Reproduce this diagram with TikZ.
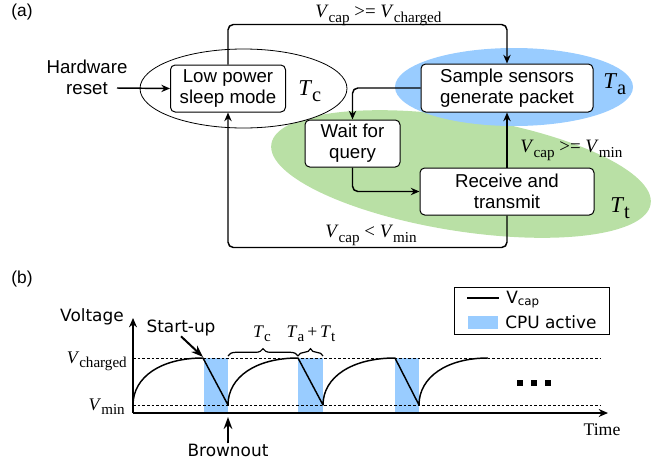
\documentclass[tikz,border=0pt]{standalone}
\usepackage{fontspec}
\usepackage{graphicx}
\setmainfont{Liberation Serif}
\setsansfont{Liberation Sans}
\newfontfamily\plotfont{DejaVu Sans}
\usetikzlibrary{arrows.meta, decorations.pathreplacing}
\definecolor{cpu-blue}{HTML}{99CCFF}
\definecolor{tx-green}{HTML}{B9E0A5}

% italic symbol with an upright, lowered index
\newcommand{\qsym}[3][0.8]{\textit{#2}\raisebox{-0.28em}{\scalebox{#1}{#3}}}

\begin{document}
\begin{tikzpicture}[x=0.75pt, y=-0.75pt,
    state/.style={draw, fill=white, rounded corners=3.5pt, line width=0.75pt,
      align=center, inner sep=0pt, font=\sffamily\fontsize{14}{15.6}\selectfont},
    flow/.style={-{Stealth[length=6.5pt, width=5.5pt]}, line width=1.1pt, rounded corners=4pt},
    cond/.style={anchor=base west, inner sep=0pt, font=\fontsize{14.2}{16}\selectfont},
    phase/.style={anchor=base west, inner sep=0pt, font=\fontsize{17}{18}\selectfont},
    axislbl/.style={inner sep=0pt, font=\fontsize{13.3}{15}\selectfont},
    note/.style={inner sep=0pt, font=\plotfont\fontsize{12.7}{14}\selectfont},
    level/.style={dash pattern=on 2pt off 1.5pt, line width=0.5pt},
    axis/.style={-{Stealth[length=7pt, width=6pt]}, line width=1pt},
    bigarrow/.style={-{Stealth[length=9pt, width=6.5pt]}, line width=1.5pt}]

  \useasboundingbox (0,0) rectangle (662,461);

  % ---- (a) states of the node ----
  \node[font=\sffamily\fontsize{13}{15}\selectfont] (lbla) at (22,12) {(a)};

  % energy phases behind the states
  \fill[tx-green, rotate around={-9:(461,174)}] (461,174) ellipse [x radius=192, y radius=57];
  \fill[cpu-blue] (514,87) ellipse [x radius=119, y radius=39];
  \draw[fill=white, line width=0.6pt] (243.5,88.5) ellipse [x radius=103.5, y radius=39.5];

  \node[state, minimum width=86.25pt, minimum height=35.25pt] (sleep) at (228,88.5) {Low power\\sleep mode};
  \node[state, minimum width=129pt, minimum height=36pt] (sample) at (507,88) {Sample sensors\\generate packet};
  \node[state, minimum width=71.25pt, minimum height=35.25pt] (wait) at (352.5,143.5) {Wait for\\query};
  \node[state, minimum width=130.5pt, minimum height=35.25pt] (radio) at (507,191.5) {Receive and\\transmit};

  \node[phase] (tc) at (298,95) {\qsym[0.9]{T}{c}};
  \node[phase] (ta) at (603,88) {\qsym[0.9]{T}{a}};
  \node[phase] (tt) at (610,212) {\qsym[0.9]{T}{t}};

  \node[font=\sffamily\fontsize{14}{15.6}\selectfont, align=center, inner sep=0pt] (hwreset) at (87,77) {Hardware\\reset};
  \coordinate (resetin) at (117,88);

  \draw[flow] (resetin) -- (sleep.west);
  \draw[flow] (sleep.north) -- ++(0,-40) -| (sample.north);
  \draw[flow] (sample.west) -| (wait.north);
  \draw[flow] (wait.south) |- (radio.west);
  \draw[flow] (radio.north) -- (sample.south);
  \draw[flow] (radio.south) -- ++(0,32) -| (sleep.south);

  \node[cond] (charged) at (315,17) {\qsym{V}{cap} >= \qsym{V}{charged}};
  \node[cond] (aboveMin) at (520,152) {\qsym{V}{cap} >= \qsym{V}{min}};
  \node[cond] (belowMin) at (325,237) {\qsym{V}{cap} < \qsym{V}{min}};

  % ---- (b) capacitor voltage over time ----
  \node[font=\sffamily\fontsize{13}{15}\selectfont] (lblb) at (22,279) {(b)};

  \foreach \t/\u in {204/228, 298/323, 395/419}
    \fill[cpu-blue] (\t,358) rectangle (\u,413);

  \draw[level] (133,358) -- (600,358);
  \draw[level] (133,405) -- (600,405);

  \coordinate (origin) at (133,413);
  \coordinate (vtop) at (133,318);
  \coordinate (tend) at (608,413);
  \draw[axis] (origin) -- (vtop);
  \draw[axis] (origin) -- (tend);

  \draw[line width=1.1pt, line join=round]
    (133,405) .. controls (133,377) and (161,358) .. (203,358) -- (228,405)
    .. controls (228,377) and (256,358) .. (298,358) -- (323,405)
    .. controls (323,377) and (352,358) .. (395,358) -- (419,405)
    .. controls (419,377) and (447,358) .. (488,358);

  \foreach \d in {520,534,548}
    \fill (\d-2.8,380.2) rectangle (\d+2.8,385.8);

  \draw[decorate, decoration={brace, amplitude=5.5pt}, line width=0.9pt] (228,356) -- (298,356);
  \draw[decorate, decoration={brace, amplitude=5.5pt}, line width=0.9pt] (298,356) -- (323,356);
  \node[axislbl, anchor=base] (tcb) at (262,337) {\qsym[0.85]{T}{c}};
  \node[axislbl, anchor=base] (tat) at (311,337) {\qsym[0.85]{T}{a}\,+\,\qsym[0.85]{T}{t}};

  \node[axislbl, anchor=base east] (vch) at (127,363) {\qsym[0.85]{V}{charged}};
  \node[axislbl, anchor=base east] (vmn) at (125,410) {\qsym[0.85]{V}{min}};
  \node[axislbl] (tlbl) at (602,430) {Time};
  \node[note] (vlbl) at (92,317) {Voltage};

  \node[note] (startup) at (181,328) {Start-up};
  \coordinate (chargetop) at (203,357);
  \draw[bigarrow] (startup.south) -- (chargetop);
  \node[note] (brown) at (228,450) {Brownout};
  \coordinate (brownpt) at (228,417);
  \draw[bigarrow] (brown.north) -- (brownpt);

  % legend
  \node[draw, line width=0.6pt, minimum width=116.25pt, minimum height=35.25pt, inner sep=0pt] (legend) at (531.5,310.5) {};
  \draw[line width=1.1pt] (467,298) -- (499,298);
  \node[note, anchor=base west] (legvcap) at (506,303) {V\textsubscript{cap}};
  \fill[cpu-blue] (468,316) rectangle (498,329);
  \node[note, anchor=base west] (legcpu) at (505,328) {CPU active};
\end{tikzpicture}
\end{document}
